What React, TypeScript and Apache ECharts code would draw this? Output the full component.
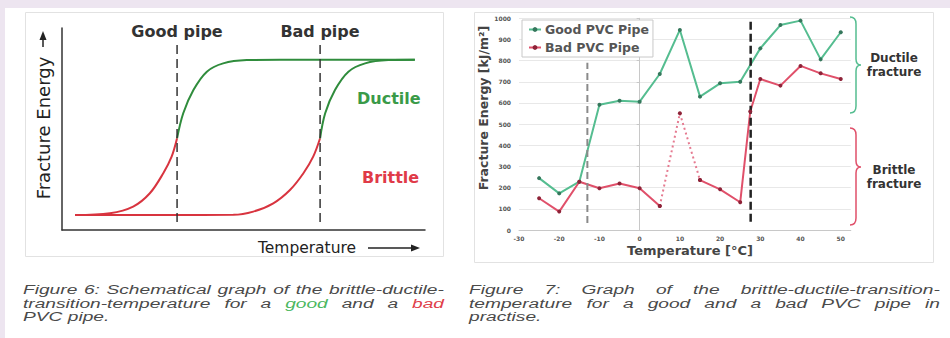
import React, { useEffect, useRef } from "react";
import * as echarts from "echarts";

// ---------- Figure 6 (schematic, arbitrary units 0..100) ----------
const goodBrittleX = [3.6, 13.2, 19.6, 24.2, 27.9, 30.2, 31.7];
const goodBrittleY = [7.4, 8.3, 11.6, 18.2, 28.1, 36.3, 45.4];
const goodDuctileX = [31.7, 33.4, 36.2, 39.9, 44.4, 50.9, 60, 97.2];
const goodDuctileY = [45.4, 57.8, 69.3, 78.4, 82.5, 84.1, 84.3, 84.3];
const badBrittleX = [3.6, 30, 47.2, 52.7, 58.2, 62.8, 66.5, 69.2, 71.1];
const badBrittleY = [7.4, 7.4, 7.5, 9.1, 13.2, 19.8, 28.1, 36.3, 45.4];
const badDuctileX = [71.1, 72.5, 75.2, 78.9, 83.5, 89.9, 97.2];
const badDuctileY = [45.4, 57.8, 69.3, 78.4, 82.5, 84.1, 84.3];
const schemTransitions = [31.7, 71.1];
const schemTransitionSpan = [4, 92.6];

// ---------- Figure 7 (measured) ----------
const goodTemps = [-25, -20, -15, -10, -5, 0, 5, 10, 15, 20, 25, 30, 35, 40, 45, 50];
const goodEnergy = [245, 173, 228, 592, 611, 606, 737, 945, 630, 693, 700, 858, 968, 989, 806, 934];
const badTemps = [-25, -20, -15, -10, -5, 0, 5, 10, 15, 20, 25, 27.5, 30, 35, 40, 45, 50];
const badEnergy = [150, 87, 228, 197, 220, 197, 113, 551, 236, 192, 131, 560, 713, 682, 775, 740, 713];
const badDottedTemps = [5, 10, 15];
const measTransitions = [-13, 27.6];
const measTransitionSpans = [[33, 790], [39, 984]];
const xTicks = [-30, -20, -10, 0, 10, 20, 30, 40, 50];

const caption6 = [
  "Figure 6: Schematical graph of the brittle-ductile-",
  "transition-temperature for a good and a bad",
  "PVC pipe.",
];
const caption7 = [
  "Figure 7: Graph of the brittle-ductile-transition-",
  "temperature for a good and a bad PVC pipe in",
  "practise.",
];

const GREEN_S = "#2f8c3c";
const RED_S = "#d8343f";
const GREEN_M = "#55bd90";
const RED_M = "#e0506a";
const LAVENDER = "#ede5f0";

const CAP_SIZE = 13.5;
const CAP_SX = 1.42;
const CAP_FONT = `italic ${CAP_SIZE}px "Liberation Sans", Arial, sans-serif`;

let shapesRegistered = false;
function registerShapes() {
  if (shapesRegistered) return;
  shapesRegistered = true;
  echarts.graphic.registerShape(
    "bracketG",
    echarts.graphic.extendPath(
      "M850,17 Q856,17 856,24 L856,59 Q856,65 861,65 Q856,65 856,71 L856,106 Q856,113 850,113",
      {}
    )
  );
  echarts.graphic.registerShape(
    "bracketR",
    echarts.graphic.extendPath(
      "M850,128 Q856,128 856,135 L856,161 Q856,167 861,167 Q856,167 856,173 L856,218 Q856,225 850,225",
      {}
    )
  );
}

const zip = (xs: number[], ys: number[]) => xs.map((x, i) => [x, ys[i]]);

function captionGraphics(
  lines: string[],
  colored: Record<string, string>,
  x0: number,
  x1: number,
  y0: number,
  lh: number
) {
  const canvas = document.createElement("canvas");
  const ctx = canvas.getContext("2d")!;
  ctx.font = CAP_FONT;
  const out: any[] = [];
  lines.forEach((line, li) => {
    const words = line.split(" ");
    const widths = words.map((w) => ctx.measureText(w).width * CAP_SX);
    const total = widths.reduce((a, b) => a + b, 0);
    const justify = li < lines.length - 1 && words.length > 1;
    const gap = justify
      ? (x1 - x0 - total) / (words.length - 1)
      : ctx.measureText(" ").width * CAP_SX;
    let x = x0;
    words.forEach((w, i) => {
      out.push({
        type: "text",
        x,
        y: y0 + li * lh,
        scaleX: CAP_SX,
        z: 100,
        style: {
          text: w,
          font: CAP_FONT,
          fill: colored[w] ?? "#4a4a4a",
          align: "left",
          verticalAlign: "middle",
          textAlign: "left",
          textVerticalAlign: "middle",
        },
      });
      x += widths[i] + gap;
    });
  });
  return out;
}

function txt(
  text: string,
  x: number,
  y: number,
  font: string,
  fill: string,
  align = "center",
  rotation = 0
) {
  return {
    type: "text",
    x,
    y,
    rotation,
    z: 100,
    style: {
      text,
      font,
      fill,
      align,
      verticalAlign: "middle",
      textAlign: align,
      textVerticalAlign: "middle",
    },
  };
}

export default function App() {
  const ref = useRef<HTMLDivElement>(null);

  useEffect(() => {
    document.body.style.margin = "0";
    registerShapes();
    const chart = echarts.init(ref.current!, null, { renderer: "svg" });

    const badSolid = badTemps.map((t, i) => (t > badDottedTemps[0] && t < badDottedTemps[badDottedTemps.length - 1] ? [t, null] : [t, badEnergy[i]]));
    const badDotted = badTemps
      .map((t, i) => [t, badEnergy[i]])
      .filter((p) => badDottedTemps.includes(p[0] as number));

    const schemLine = (xs: number[], ys: number[], color: string) => ({
      type: "line",
      xAxisIndex: 0,
      yAxisIndex: 0,
      data: zip(xs, ys),
      smooth: 0.35,
      symbol: "none",
      silent: true,
      lineStyle: { color, width: 2 },
    });

    const graphic: any[] = [
      { type: "rect", z: -10, shape: { x: 0, y: 0, width: 950, height: 8 }, style: { fill: LAVENDER } },
      { type: "rect", z: -10, shape: { x: 0, y: 0, width: 5, height: 338 }, style: { fill: LAVENDER } },
      { type: "rect", z: -5, shape: { x: 25.5, y: 12.5, width: 418, height: 244 }, style: { fill: "#fff", stroke: "#e2e2e2", lineWidth: 1 } },
      { type: "rect", z: -5, shape: { x: 474.5, y: 12.5, width: 459, height: 250 }, style: { fill: "#fff", stroke: "#e2e2e2", lineWidth: 1 } },
      // Figure 6 texts
      txt("Good pipe", 177, 31, "bold 16px 'DejaVu Sans'", "#333"),
      txt("Bad pipe", 320, 31, "bold 16px 'DejaVu Sans'", "#333"),
      txt("Ductile", 357, 98, "bold 16px 'DejaVu Sans'", "#3a9a48", "left"),
      txt("Brittle", 362, 177, "bold 16px 'DejaVu Sans'", "#e03a48", "left"),
      txt("Fracture Energy", 43, 128, "18px 'DejaVu Sans'", "#222", "center", Math.PI / 2),
      txt("Temperature", 307, 248, "15.5px 'DejaVu Sans'", "#222"),
      { type: "line", z: 100, shape: { x1: 43, y1: 47, x2: 43, y2: 38 }, style: { stroke: "#222", lineWidth: 1.5 } },
      { type: "polygon", z: 100, shape: { points: [[43, 31], [39.5, 40], [46.5, 40]] }, style: { fill: "#222" } },
      { type: "line", z: 100, shape: { x1: 368, y1: 248, x2: 412, y2: 248 }, style: { stroke: "#222", lineWidth: 1.5 } },
      { type: "polygon", z: 100, shape: { points: [[420, 248], [411, 244.5], [411, 251.5]] }, style: { fill: "#222" } },
      // Figure 7 texts
      txt("Fracture Energy [kJ/m²]", 483, 108, "bold 12.5px 'DejaVu Sans'", "#444", "center", Math.PI / 2),
      txt("Temperature [°C]", 690, 250, "bold 13px 'DejaVu Sans'", "#444"),
      { type: "bracketG", z: 100, style: { stroke: GREEN_M, fill: "none", lineWidth: 1.5 } },
      { type: "bracketR", z: 100, style: { stroke: RED_M, fill: "none", lineWidth: 1.5 } },
      txt("Ductile", 894, 58, "bold 12px 'DejaVu Sans'", "#333"),
      txt("fracture", 894, 72, "bold 12px 'DejaVu Sans'", "#333"),
      txt("Brittle", 894, 170, "bold 12px 'DejaVu Sans'", "#333"),
      txt("fracture", 894, 184, "bold 12px 'DejaVu Sans'", "#333"),
      ...captionGraphics(caption6, { good: "#4cb860", bad: "#e0404a" }, 23, 444, 290, 13.5),
      ...captionGraphics(caption7, {}, 469, 940, 290, 13.5),
    ];

    const option: any = {
      animation: false,
      backgroundColor: "#ffffff",
      textStyle: { fontFamily: "DejaVu Sans" },
      grid: [
        { left: 62, top: 28, width: 363, height: 202 },
        { left: 519, top: 18.3, width: 331.8, height: 211.7 },
      ],
      xAxis: [
        {
          gridIndex: 0, type: "value", min: 0, max: 100,
          axisLine: { lineStyle: { color: "#333", width: 1.5 } },
          axisTick: { show: false }, axisLabel: { show: false }, splitLine: { show: false },
        },
        {
          gridIndex: 1, type: "value", min: -30, max: 52.5, interval: 10,
          axisLine: { lineStyle: { color: "#c8c8c8" } },
          axisTick: { show: false },
          axisLabel: {
            fontSize: 6, fontWeight: "bold", color: "#555", margin: 5,
            formatter: (v: number) => (xTicks.includes(v) ? String(v) : ""),
          },
          splitLine: { show: false },
        },
      ],
      yAxis: [
        {
          gridIndex: 0, type: "value", min: 0, max: 100,
          axisLine: { show: true, lineStyle: { color: "#333", width: 1.5 } },
          axisTick: { show: false }, axisLabel: { show: false }, splitLine: { show: false },
        },
        {
          gridIndex: 1, type: "value", min: 0, max: 1000, interval: 100,
          axisLine: { show: true, lineStyle: { color: "#c8c8c8" } },
          axisTick: { show: true, length: 3, lineStyle: { color: "#c8c8c8" } },
          axisLabel: { fontSize: 6, fontWeight: "bold", color: "#555", margin: 8, formatter: (v: number) => String(v) },
          splitLine: { show: true, lineStyle: { color: "#e8e8e8" } },
        },
      ],
      legend: {
        data: ["Good PVC Pipe", "Bad PVC Pipe"],
        orient: "vertical",
        left: 522,
        top: 20,
        itemWidth: 12,
        itemHeight: 6,
        itemGap: 5,
        backgroundColor: "#fff",
        borderColor: "#c8c8c8",
        borderWidth: 1,
        padding: [3, 4, 3, 6],
        textStyle: { fontFamily: "DejaVu Sans", fontWeight: "bold", fontSize: 12.5, color: "#555", padding: [0, 0, 0, -1] },
      },
      series: [
        schemLine(badBrittleX, badBrittleY, RED_S),
        schemLine(goodBrittleX, goodBrittleY, RED_S),
        schemLine(goodDuctileX, goodDuctileY, GREEN_S),
        schemLine(badDuctileX, badDuctileY, GREEN_S),
        ...schemTransitions.map((x) => ({
          type: "line", xAxisIndex: 0, yAxisIndex: 0, symbol: "none", silent: true,
          data: [[x, schemTransitionSpan[0]], [x, schemTransitionSpan[1]]],
          lineStyle: { color: "#333", width: 1.5, type: [9, 5] },
        })),
        {
          name: "Good PVC Pipe", type: "line", xAxisIndex: 1, yAxisIndex: 1,
          data: zip(goodTemps, goodEnergy),
          symbol: "circle", symbolSize: 4,
          lineStyle: { color: GREEN_M, width: 2 },
          itemStyle: { color: "#35775c" },
        },
        {
          name: "Bad PVC Pipe", type: "line", xAxisIndex: 1, yAxisIndex: 1,
          data: badSolid, connectNulls: false,
          symbol: "circle", symbolSize: 4,
          lineStyle: { color: RED_M, width: 2 },
          itemStyle: { color: "#8e2338" },
        },
        {
          name: "Bad dotted", type: "line", xAxisIndex: 1, yAxisIndex: 1,
          data: badDotted,
          symbol: "circle", symbolSize: 4,
          lineStyle: { color: "#e57a90", width: 2, type: [2, 3] },
          itemStyle: { color: "#8e2338" },
        },
        {
          type: "line", xAxisIndex: 1, yAxisIndex: 1, symbol: "none", silent: true,
          data: [[measTransitions[0], measTransitionSpans[0][0]], [measTransitions[0], measTransitionSpans[0][1]]],
          lineStyle: { color: "#8a8a8a", width: 2, type: [7, 4] },
        },
        {
          type: "line", xAxisIndex: 1, yAxisIndex: 1, symbol: "none", silent: true,
          data: [[measTransitions[1], measTransitionSpans[1][0]], [measTransitions[1], measTransitionSpans[1][1]]],
          lineStyle: { color: "#222", width: 2.5, type: [8, 4] },
        },
      ],
      graphic,
    };

    chart.setOption(option);
    return () => chart.dispose();
  }, []);

  return <div ref={ref} style={{ width: 950, height: 338 }} />;
}
